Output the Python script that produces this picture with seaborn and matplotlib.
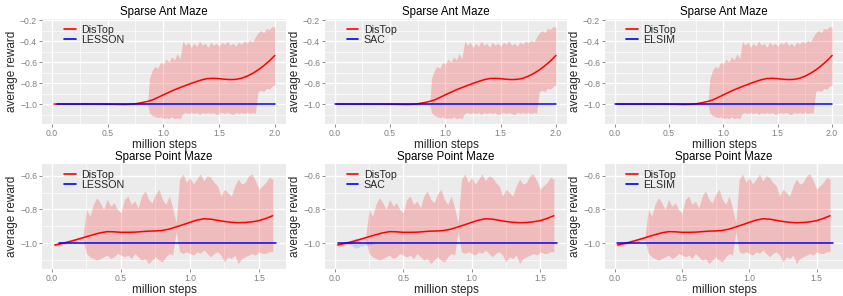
import numpy as np
import pandas as pd
import matplotlib
matplotlib.use("Agg")
import matplotlib.pyplot as plt
from matplotlib.lines import Line2D
from matplotlib.ticker import MultipleLocator, FormatStrFormatter, FuncFormatter
import seaborn as sns

# ---- data ----
baselines = ["LESSON", "SAC", "ELSIM"]

# Sparse Ant Maze: DisTop mean curve
ant_x = [0.02, 0.1, 0.2, 0.3, 0.4, 0.5, 0.6, 0.65, 0.7, 0.75, 0.8, 0.85, 0.9, 0.95, 1.0,
         1.05, 1.1, 1.15, 1.2, 1.25, 1.3, 1.35, 1.4, 1.45, 1.5, 1.55, 1.6, 1.65, 1.7,
         1.75, 1.8, 1.85, 1.9, 1.95, 2.0]
ant_mean = [-1.0, -1.0, -1.0, -1.0, -1.0, -1.001, -1.003, -1.004, -1.002, -0.997, -0.988,
            -0.977, -0.962, -0.938, -0.912, -0.888, -0.864, -0.843, -0.823, -0.803, -0.785,
            -0.768, -0.757, -0.755, -0.758, -0.764, -0.767, -0.765, -0.755, -0.735, -0.708,
            -0.675, -0.635, -0.59, -0.537]

# Sparse Ant Maze: DisTop band
ant_band_x = [0.02, 0.86, 0.875, 0.9, 0.925, 0.95, 0.975, 1.0, 1.025, 1.05, 1.075, 1.1, 1.125,
              1.15, 1.175, 1.2, 1.225, 1.25, 1.275, 1.3, 1.325, 1.35, 1.375, 1.4, 1.425,
              1.45, 1.475, 1.5, 1.525, 1.55, 1.575, 1.6, 1.625, 1.65, 1.675, 1.7, 1.725,
              1.75, 1.775, 1.8, 1.825, 1.85, 1.875, 1.9, 1.925, 1.95, 1.975, 2.0]
ant_upper = [-0.998, -0.99, -0.76, -0.68, -0.64, -0.66, -0.60, -0.62, -0.57, -0.60, -0.55,
             -0.58, -0.52, -0.57, -0.40, -0.44, -0.41, -0.46, -0.42, -0.45, -0.40, -0.44,
             -0.42, -0.46, -0.41, -0.44, -0.42, -0.45, -0.41, -0.43, -0.40, -0.44, -0.42,
             -0.45, -0.41, -0.43, -0.40, -0.42, -0.39, -0.41, -0.36, -0.32, -0.30, -0.32,
             -0.28, -0.29, -0.26, -0.27]
ant_lower = [-1.002, -1.01, -1.08, -1.11, -1.12, -1.13, -1.12, -1.14, -1.13, -1.14, -1.12,
             -1.14, -1.13, -1.14, -1.09, -1.08, -1.09, -1.08, -1.09, -1.08, -1.10, -1.08,
             -1.09, -1.08, -1.09, -1.08, -1.10, -1.09, -1.08, -1.09, -1.08, -1.09, -1.10,
             -1.08, -1.09, -1.08, -1.09, -1.08, -1.09, -1.08, -1.09, -0.88, -0.87, -0.88,
             -0.85, -0.86, -0.83, -0.82]

# Sparse Point Maze: DisTop mean curve
pt_x = [0.02, 0.05, 0.1, 0.15, 0.2, 0.25, 0.3, 0.35, 0.4, 0.45, 0.5, 0.55, 0.6, 0.65, 0.7,
        0.75, 0.8, 0.85, 0.9, 0.95, 1.0, 1.05, 1.1, 1.15, 1.2, 1.25, 1.3, 1.35, 1.4, 1.45,
        1.5, 1.55, 1.6]
pt_mean = [-1.01, -1.005, -0.996, -0.985, -0.973, -0.961, -0.949, -0.938, -0.931, -0.932,
           -0.935, -0.935, -0.934, -0.931, -0.928, -0.927, -0.924, -0.916, -0.903, -0.89,
           -0.876, -0.863, -0.855, -0.857, -0.864, -0.871, -0.876, -0.878, -0.877, -0.873,
           -0.866, -0.853, -0.837]

# Sparse Point Maze: DisTop band
pt_band_x = [0.02, 0.225, 0.25, 0.275, 0.3, 0.325, 0.35, 0.375, 0.4, 0.425, 0.45, 0.475, 0.5,
             0.525, 0.55, 0.575, 0.6, 0.625, 0.65, 0.675, 0.7, 0.725, 0.75, 0.775, 0.8,
             0.825, 0.85, 0.875, 0.9, 0.925, 0.95, 0.975, 1.0, 1.025, 1.05, 1.075, 1.1,
             1.125, 1.15, 1.175, 1.2, 1.225, 1.25, 1.275, 1.3, 1.325, 1.35, 1.375, 1.4,
             1.425, 1.45, 1.475, 1.5, 1.525, 1.55, 1.575, 1.6]
pt_upper = [-1.0, -0.96, -0.80, -0.84, -0.77, -0.73, -0.76, -0.80, -0.74, -0.78, -0.76, -0.80,
            -0.82, -0.74, -0.72, -0.77, -0.75, -0.79, -0.72, -0.69, -0.74, -0.76, -0.71,
            -0.68, -0.74, -0.77, -0.72, -0.79, -0.88, -0.62, -0.59, -0.64, -0.61, -0.65,
            -0.62, -0.59, -0.63, -0.60, -0.61, -0.64, -0.66, -0.72, -0.68, -0.70, -0.72,
            -0.66, -0.62, -0.65, -0.64, -0.60, -0.59, -0.63, -0.68, -0.66, -0.64, -0.61,
            -0.62]
pt_lower = [-1.02, -0.98, -1.06, -1.08, -1.09, -1.10, -1.09, -1.08, -1.07, -1.09, -1.08, -1.06,
            -1.07, -1.08, -1.07, -1.09, -1.06, -1.08, -1.10, -1.09, -1.12, -1.10, -1.08,
            -1.10, -1.11, -1.08, -1.06, -1.07, -0.93, -1.05, -1.06, -1.05, -1.06, -1.07,
            -1.05, -1.06, -1.04, -1.06, -1.08, -1.06, -1.05, -1.07, -1.11, -1.08, -1.09,
            -1.07, -1.12, -1.09, -1.08, -1.07, -1.06, -1.07, -1.05, -1.06, -1.06, -1.05,
            -1.05]

# baseline curves (flat at -1.0)
ant_base_x = {"LESSON": [0.05, 2.0], "SAC": [0.0, 2.0], "ELSIM": [0.0, 2.0]}
pt_base_x = {"LESSON": [0.05, 1.62], "SAC": [0.02, 1.62], "ELSIM": [0.02, 1.62]}
base_y = [-1.0, -1.0]

# faint SAC band at the start of the point maze
sac_band_x = [0.08, 0.12, 0.15, 0.18, 0.22, 0.26, 0.3]
sac_upper = [-1.0, -0.99, -0.97, -0.99, -0.985, -0.99, -1.0]
sac_lower = [-1.0, -1.01, -1.03, -1.02, -1.01, -1.01, -1.0]

# ---- styling ----
sns.set_theme(style="darkgrid", rc={
    "axes.facecolor": "#EBEBEB",
    "grid.color": "white",
    "xtick.bottom": True,
    "ytick.left": True,
    "xtick.color": "#8A8A8A",
    "ytick.color": "#8A8A8A",
    "xtick.major.size": 2.0,
    "ytick.major.size": 2.0,
    "xtick.major.width": 0.7,
    "ytick.major.width": 0.7,
})
plt.rcParams["font.family"] = ["Liberation Sans", "DejaVu Sans"]

W, H = 843, 296
fig = plt.figure(figsize=(W / 100, H / 100), dpi=100)

lefts = [42, 325, 605]
widths = [244, 242, 238]
tops = [19, 164]
ph = 105

RED = "#FF0000"
BLUE = "#0000FF"

for row in range(2):
    for col in range(3):
        l, t, pw = lefts[col], tops[row], widths[col]
        ax = fig.add_axes([l / W, 1 - (t + ph) / H, pw / W, ph / H])
        name = baselines[col]
        if row == 0:
            mx, my = ant_x, ant_mean
            bx, bu, bl = ant_band_x, ant_upper, ant_lower
            basex = ant_base_x[name]
            title = "Sparse Ant Maze"
        else:
            mx, my = pt_x, pt_mean
            bx, bu, bl = pt_band_x, pt_upper, pt_lower
            basex = pt_base_x[name]
            title = "Sparse Point Maze"

        ax.fill_between(bx, bl, bu, color=RED, alpha=0.2, linewidth=0)
        if row == 1 and name == "SAC":
            ax.fill_between(sac_band_x, sac_lower, sac_upper, color=BLUE, alpha=0.12, linewidth=0)

        df_m = pd.DataFrame({"x": mx, "y": my})
        df_b = pd.DataFrame({"x": basex, "y": base_y})
        sns.lineplot(data=df_m, x="x", y="y", ax=ax, color=RED, linewidth=1.1)
        sns.lineplot(data=df_b, x="x", y="y", ax=ax, color=BLUE, linewidth=1.1)

        if row == 0:
            ax.set_xlim(-0.088, 2.10)
            ax.set_ylim(-1.19, -0.19)
        else:
            ax.set_xlim(-0.072, 1.696)
            ax.set_ylim(-1.152, -0.531)
        ax.xaxis.set_major_locator(MultipleLocator(0.5))
        ax.xaxis.set_minor_locator(MultipleLocator(0.25))
        ax.yaxis.set_major_locator(MultipleLocator(0.2))
        ax.yaxis.set_minor_locator(MultipleLocator(0.1))

        ax.xaxis.set_major_formatter(FormatStrFormatter("%.1f"))
        ax.yaxis.set_major_formatter(FuncFormatter(
            lambda v, p: ("%.1f" % v).replace("-", "\u2212")))
        ax.grid(which="major", color="white", linewidth=1.0)
        ax.grid(which="minor", color="white", linewidth=0.5)
        ax.tick_params(which="major", labelsize=6.2, pad=1.5, labelcolor="#7F7F7F")
        ax.tick_params(which="minor", length=0)
        for s in ax.spines.values():
            s.set_visible(False)

        ax.set_title(title, fontsize=8.3, pad=3, color="black")
        ax.set_xlabel("million steps", fontsize=8.5, labelpad=0.5)
        ax.set_ylabel("average reward", fontsize=8.5, labelpad=1.5)

        handles = [Line2D([0], [0], color=RED, lw=1.2), Line2D([0], [0], color=BLUE, lw=1.2)]
        ax.legend(handles, ["DisTop", name], loc="upper left", bbox_to_anchor=(0.065, 1.0),
                  frameon=False, fontsize=7.7, handlelength=1.1, handletextpad=0.5,
                  labelspacing=0.0, borderaxespad=0.15)

fig.savefig("out.png", dpi=100)
